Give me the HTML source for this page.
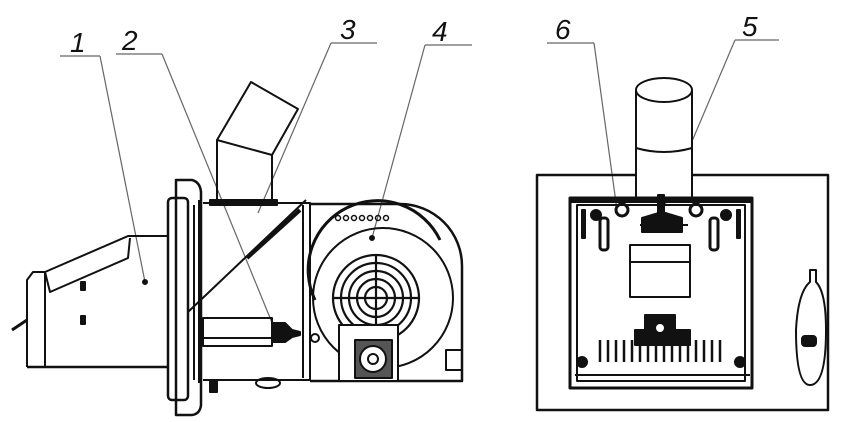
<!DOCTYPE html>
<html><head><meta charset="utf-8"><style>
html,body{margin:0;padding:0;background:#fff;}
svg{display:block;}
text{font-family:"Liberation Sans",sans-serif;font-style:italic;font-size:28px;fill:#111;}
</style></head><body>
<svg width="845" height="422" viewBox="0 0 845 422" xmlns="http://www.w3.org/2000/svg">
<g fill="none" stroke="#111" stroke-width="2" stroke-linejoin="round">
<!-- labels -->
<g stroke="#666" stroke-width="1.2">
<line x1="60" y1="56" x2="100" y2="56"/><line x1="100" y1="56" x2="145" y2="282"/>
<line x1="116" y1="54" x2="162" y2="54"/><line x1="162" y1="54" x2="275" y2="330"/>
<line x1="331" y1="43" x2="377" y2="43"/><line x1="331" y1="43" x2="258" y2="213"/>
<line x1="425" y1="45" x2="472" y2="45"/><line x1="425" y1="45" x2="372" y2="238"/>
<line x1="547" y1="43" x2="594" y2="43"/><line x1="594" y1="43" x2="617" y2="210"/>
<line x1="735" y1="40" x2="779" y2="40"/><line x1="735" y1="40" x2="662" y2="212"/>
</g>
<!-- hopper -->
<path d="M27 367 L27 280 L33 272 L45 272 L128 236 L168 236"/>
<path d="M45 272 L50 292 L128 258 L130 238"/>
<line x1="45" y1="272" x2="45" y2="367"/>
<line x1="27" y1="367" x2="168" y2="367" stroke-width="2.5"/>
<line x1="12" y1="330" x2="27" y2="320" stroke-width="3"/>
<rect x="81" y="282" width="4" height="8" fill="#111"/><rect x="81" y="316" width="4" height="8" fill="#111"/>
<circle cx="145" cy="282" r="2" fill="#111"/>
<!-- flange -->
<path d="M176 180 L192 180 Q200 182 201 192 L201 405 Q200 414 192 415 L176 415 Z" stroke-width="2.5"/>
<rect x="168" y="198" width="20" height="202" rx="4" stroke-width="2.5"/>
<line x1="200" y1="200" x2="200" y2="383" stroke-width="4"/>
<line x1="194" y1="205" x2="194" y2="380"/>
<!-- middle box -->
<path d="M203 203 L310 203 L310 380 L203 380"/>
<rect x="210" y="200" width="67" height="5" fill="#111"/>
<line x1="188" y1="312" x2="306" y2="200"/>
<line x1="303" y1="205" x2="303" y2="378"/>
<line x1="247" y1="258" x2="300" y2="210" stroke-width="4"/>
<rect x="203" y="318" width="69" height="28"/>
<line x1="203" y1="338" x2="272" y2="338"/>
<path d="M272 323 L285 323 L292 330 L300 332 L300 335 L292 337 L285 342 L272 342" fill="#111"/>
<ellipse cx="268" cy="383" rx="12" ry="5"/>
<rect x="210" y="380" width="7" height="12" fill="#111"/>
<!-- chute -->
<path d="M217 200 L217 140 L251 82 L298 109 L272 155 L272 200"/>
<line x1="217" y1="140" x2="272" y2="155"/>
<!-- fan housing -->
<path d="M310 204 L400 204 A62 62 0 0 1 462 266 L462 381 L310 381" stroke-width="2.5"/>
<circle cx="383" cy="298" r="70"/>
<path d="M315 300 A68 68 0 0 1 440 240" stroke-width="3"/>
<g stroke-width="2.2">
<circle cx="376" cy="298" r="43"/><circle cx="376" cy="298" r="35"/><circle cx="376" cy="298" r="27"/><circle cx="376" cy="298" r="19"/><circle cx="376" cy="298" r="11"/>
<line x1="333" y1="298" x2="419" y2="298"/><line x1="376" y1="255" x2="376" y2="341"/>
</g>
<g stroke-width="1.5"><circle cx="338" cy="218" r="2.5"/><circle cx="346" cy="218" r="2.5"/><circle cx="354" cy="218" r="2.5"/><circle cx="362" cy="218" r="2.5"/><circle cx="370" cy="218" r="2.5"/><circle cx="378" cy="218" r="2.5"/><circle cx="386" cy="218" r="2.5"/></g>
<circle cx="372" cy="238" r="2" fill="#111"/>
<rect x="339" y="325" width="59" height="56" fill="#fff"/>
<rect x="355" y="340" width="37" height="38" fill="#555"/>
<circle cx="373" cy="359" r="13" fill="#fff"/><circle cx="373" cy="359" r="5"/>
<rect x="446" y="350" width="16" height="20"/>
<circle cx="315" cy="338" r="4"/>
<!-- right view -->
<rect x="537" y="175" width="291" height="235" stroke-width="2.5"/>
<rect x="636" y="90" width="56" height="110" fill="#fff"/>
<ellipse cx="664" cy="90" rx="28" ry="12" fill="#fff"/>
<path d="M636 148 Q664 156 692 148"/>
<rect x="570" y="198" width="182" height="190" stroke-width="3"/>
<rect x="577" y="205" width="168" height="176"/>
<line x1="570" y1="200" x2="752" y2="200" stroke-width="6"/>
<rect x="630" y="245" width="60" height="52"/>
<line x1="630" y1="262" x2="690" y2="262"/>
<path d="M640 225 L688 225 M642 218 L662 212 L682 218 L682 232 L642 232 Z" fill="#111"/>
<rect x="658" y="195" width="6" height="20" fill="#111"/>
<rect x="600" y="218" width="8" height="32" rx="3" stroke-width="3"/>
<rect x="710" y="218" width="8" height="32" rx="3" stroke-width="3"/>
<rect x="582" y="210" width="3" height="28" fill="#111"/><rect x="737" y="210" width="3" height="28" fill="#111"/>
<circle cx="596" cy="215" r="5" fill="#111"/><circle cx="726" cy="215" r="5" fill="#111"/>
<circle cx="622" cy="210" r="6" stroke-width="3"/><circle cx="696" cy="210" r="6" stroke-width="3"/>
<path d="M645 315 L675 315 L675 330 L690 330 L690 345 L635 345 L635 330 L645 330 Z" fill="#111"/>
<circle cx="660" cy="328" r="5" fill="#fff"/>
<g stroke-width="2.5">
<line x1="600" y1="340" x2="600" y2="362"/><line x1="608" y1="340" x2="608" y2="362"/><line x1="616" y1="340" x2="616" y2="362"/><line x1="624" y1="340" x2="624" y2="362"/><line x1="632" y1="340" x2="632" y2="362"/><line x1="640" y1="340" x2="640" y2="362"/><line x1="648" y1="340" x2="648" y2="362"/><line x1="656" y1="340" x2="656" y2="362"/><line x1="664" y1="340" x2="664" y2="362"/><line x1="672" y1="340" x2="672" y2="362"/><line x1="680" y1="340" x2="680" y2="362"/><line x1="688" y1="340" x2="688" y2="362"/><line x1="696" y1="340" x2="696" y2="362"/><line x1="704" y1="340" x2="704" y2="362"/><line x1="712" y1="340" x2="712" y2="362"/><line x1="720" y1="340" x2="720" y2="362"/>
</g>
<circle cx="582" cy="362" r="5" fill="#111"/><circle cx="740" cy="362" r="5" fill="#111"/>
<line x1="575" y1="375" x2="750" y2="375"/>
<path d="M810 270 L816 270 L816 282 Q826 292 826 330 Q826 385 810 385 Q796 385 796 330 Q798 292 810 282 Z"/>
<rect x="802" y="336" width="14" height="10" rx="3" fill="#111"/>
</g>
<text x="70" y="52">1</text>
<text x="122" y="50">2</text>
<text x="340" y="39">3</text>
<text x="432" y="41">4</text>
<text x="555" y="39">6</text>
<text x="742" y="36">5</text>
</svg>
</body></html>
